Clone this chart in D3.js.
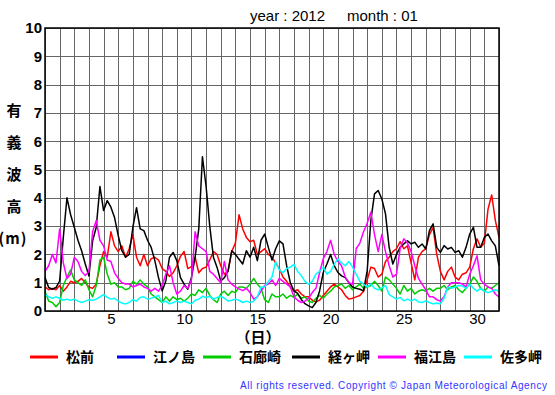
<!DOCTYPE html>
<html>
<head>
<meta charset="utf-8">
<script src="https://cdn.jsdelivr.net/npm/d3@7"></script>
<style>
  body { margin: 0; background: #fff; }
  svg { display: block; }
  .grid line { stroke: #666; stroke-width: 1; shape-rendering: crispEdges; }
  .grid path { display: none; }
  .ylab text { font: bold 15px "Liberation Sans", Arial, sans-serif; fill: #000; }
  .xlab text { font: 15px "Liberation Sans", Arial, sans-serif; fill: #000; }
  .jp { font-family: "Noto Sans CJK JP", sans-serif; font-weight: bold; }
</style>
</head>
<body>
<script>
// 6-hourly readings, day 0..31 (step 0.25 day)
var step = 0.25;
var stations = ['松前', '江ノ島', '石廊崎', '経ヶ岬', '福江島', '佐多岬'];
var colors = ['#ff0000', '#0000ff', '#00cc00', '#000000', '#ff00ff', '#00ffff'];
var yTicks = [0, 1, 2, 3, 4, 5, 6, 7, 8, 9, 10];
var xTickDays = [5, 10, 15, 20, 25, 30];

var matsumae = [0.85,0.75,0.8,0.75,0.9,0.7,0.85,1.05,1.0,1.05,1.15,1.0,0.85,0.8,0.95,1.6,2.1,1.9,2.8,2.3,2.1,2.3,1.9,2.2,2.7,1.9,1.6,2.0,1.6,1.85,1.9,1.8,
  1.5,1.4,1.22,1.35,1.6,1.93,2.1,1.5,1.57,1.9,1.35,1.5,1.55,1.8,2.1,2.0,1.6,1.3,1.4,2.1,2.4,3.4,2.9,2.6,2.45,2.5,2.0,2.1,2.2,2.0,1.9,1.7,
  1.5,1.2,1.05,0.85,0.7,0.75,0.6,0.5,0.5,0.38,0.32,0.38,0.55,0.7,0.85,0.95,0.85,0.75,0.55,0.42,0.45,0.5,0.55,0.7,1.1,1.55,1.5,1.2,1.3,1.75,1.9,2.1,
  2.2,2.45,2.2,2.3,1.7,1.1,1.9,2.1,2.2,2.7,2.95,2.0,1.4,1.1,1.4,1.55,1.2,1.1,1.3,1.35,1.55,2.2,2.55,2.25,2.4,3.6,4.1,3.2,2.6];
var enoshima = [];
var irozaki = [0.7,0.35,0.3,0.15,0.3,0.9,1.2,1.45,1.1,1.0,0.9,1.1,0.75,0.5,0.9,1.8,1.9,1.3,0.95,1.0,0.85,0.85,0.75,0.8,1.05,0.95,1.1,0.95,0.85,0.6,0.5,0.4,
  0.3,0.5,0.35,0.5,0.4,0.45,0.35,0.45,0.6,0.55,0.75,0.65,0.8,0.55,0.4,0.3,0.6,0.7,0.55,0.7,0.65,0.85,0.85,0.8,0.95,1.15,0.95,0.8,0.4,0.3,0.6,0.5,
  0.5,0.6,0.45,0.55,0.48,0.6,0.45,0.5,0.35,0.3,0.45,0.55,0.45,0.6,0.7,0.85,0.9,0.95,0.8,0.9,0.75,0.85,0.95,0.8,0.85,0.9,1.05,0.9,0.7,1.2,1.1,0.95,
  0.8,0.6,0.9,0.7,0.8,0.6,0.7,0.75,0.7,0.8,0.7,0.8,0.8,0.9,0.75,0.85,0.9,0.75,0.65,0.8,0.95,1.2,1.05,0.8,0.7,0.85,0.8,0.9,1.0];
var kyogamisaki = [1.18,0.83,0.77,0.83,1.06,2.6,4.0,3.4,2.96,2.5,2.13,1.66,1.24,2.48,2.96,4.4,3.55,3.9,3.67,3.3,2.66,2.13,1.9,2.0,2.96,3.65,2.9,2.84,2.5,2.25,1.78,1.18,
  0.71,1.06,1.9,2.07,1.78,1.18,0.95,0.77,1.18,1.9,2.9,5.45,4.4,3.0,1.9,1.54,1.06,1.18,1.42,2.13,2.0,1.83,1.66,2.13,1.9,2.25,1.78,2.5,2.72,2.25,1.8,2.2,
  2.48,2.37,1.6,1.0,0.71,0.62,0.41,0.26,0.18,0.12,0.3,0.71,1.36,1.66,2.0,1.6,1.36,1.24,1.18,1.0,0.85,0.8,0.77,0.71,1.42,3.2,4.14,4.26,3.96,3.43,2.25,1.66,
  2.0,2.25,2.37,2.48,2.37,2.43,2.25,2.37,2.19,2.84,3.08,2.25,2.07,2.31,2.19,2.25,2.07,2.13,1.9,2.25,2.72,2.96,2.25,2.25,2.6,2.72,2.48,2.3,1.6];
var fukuejima = [1.4,1.6,2.0,1.7,2.9,1.7,1.15,1.3,1.9,1.75,1.4,1.25,1.4,2.8,3.2,2.5,2.3,1.8,1.75,1.35,1.15,1.0,0.95,0.95,0.85,0.9,0.95,0.85,0.8,0.7,0.8,0.7,
  0.9,1.3,1.6,1.0,0.6,0.7,0.9,0.8,1.1,2.8,2.3,2.2,2.1,1.4,1.3,1.15,1.0,1.75,1.1,0.95,0.85,0.78,0.72,0.8,0.65,0.42,0.5,0.7,0.9,0.95,1.1,0.9,
  1.15,1.05,0.95,0.85,0.5,0.38,0.3,0.35,0.45,0.65,0.8,1.35,1.85,2.1,2.5,2.0,1.75,1.6,1.2,1.0,0.95,2.2,2.4,2.8,3.1,3.5,2.7,2.1,2.7,2.1,1.6,1.2,
  1.3,2.2,2.55,2.4,2.1,1.6,1.15,0.95,0.75,0.5,0.5,0.4,0.35,0.5,0.85,1.0,1.0,1.0,0.95,0.85,1.3,1.6,1.95,1.1,0.95,0.85,0.8,0.6,0.5];
var satamisaki = [0.6,0.5,0.45,0.5,0.45,0.38,0.42,0.38,0.42,0.35,0.3,0.35,0.4,0.38,0.42,0.5,0.58,0.48,0.42,0.45,0.35,0.28,0.25,0.3,0.4,0.35,0.48,0.5,0.42,0.45,0.5,0.55,
  0.3,0.35,0.25,0.3,0.35,0.3,0.35,0.3,0.25,0.38,0.42,0.52,0.48,0.52,0.42,0.48,0.52,0.45,0.35,0.38,0.42,0.38,0.3,0.35,0.3,0.35,0.5,0.85,0.85,1.05,1.2,1.75,
  1.45,1.35,1.5,1.55,1.65,1.4,1.25,1.05,0.95,1.05,1.3,1.4,1.55,1.3,1.4,1.65,1.85,1.7,1.6,1.75,1.55,1.3,1.05,0.95,0.85,0.95,0.8,0.75,0.82,0.9,0.58,0.5,
  0.42,0.48,0.36,0.42,0.36,0.42,0.32,0.3,0.36,0.3,0.25,0.28,0.25,0.45,0.85,0.8,0.85,0.9,0.88,0.8,0.95,0.8,0.7,0.8,0.7,0.65,0.7,0.75,0.7];

var series = [matsumae, enoshima, irozaki, kyogamisaki, fukuejima, satamisaki];

var W = 555, H = 395;
var mLeft = 45, mRight = 499, mTop = 28, mBottom = 311;

var svg = d3.select('body').append('svg').attr('width', W).attr('height', H);

var x = d3.scaleLinear().domain([0, 31]).range([mLeft, mRight]);
var y = d3.scaleLinear().domain([0, 10]).range([mBottom, mTop]);

// grid
svg.append('g').attr('class', 'grid')
  .attr('transform', 'translate(0,' + mBottom + ')')
  .call(d3.axisBottom(x).tickValues(d3.range(0, 32)).tickSize(-(mBottom - mTop)).tickFormat(''));
svg.append('g').attr('class', 'grid')
  .attr('transform', 'translate(' + mLeft + ',0)')
  .call(d3.axisLeft(y).tickValues(yTicks).tickSize(-(mRight - mLeft)).tickFormat(''));

// tick labels
var ya = svg.append('g').attr('class', 'ylab')
  .attr('transform', 'translate(' + mLeft + ',0)')
  .call(d3.axisLeft(y).tickValues(yTicks).tickSize(0).tickPadding(3).tickFormat(d3.format('d')));
ya.select('.domain').remove();

var xa = svg.append('g').attr('class', 'xlab')
  .attr('transform', 'translate(0,' + mBottom + ')')
  .call(d3.axisBottom(x).tickValues(xTickDays.map(function(d){ return d - 0.5; }))
    .tickSize(0).tickPadding(2).tickFormat(function(d){ return d + 0.5; }));
xa.select('.domain').remove();

// lines
var line = d3.line()
  .x(function(d, i){ return x(i * step); })
  .y(function(d){ return y(d); });

svg.append('g')
  .selectAll('path').data(series).enter().append('path')
  .attr('d', function(d){ return d.length ? line(d) : null; })
  .attr('fill', 'none')
  .attr('stroke', function(d, i){ return colors[i]; })
  .attr('stroke-width', 1.5)
  .attr('stroke-linejoin', 'round');

// frame
svg.append('rect')
  .attr('x', mLeft).attr('y', mTop)
  .attr('width', mRight - mLeft).attr('height', mBottom - mTop)
  .attr('fill', 'none').attr('stroke', '#000').attr('stroke-width', 1.5);

// title
svg.append('text').attr('x', 250).attr('y', 21)
  .style('font', '15px "Liberation Sans", Arial, sans-serif')
  .text('year : 2012');
svg.append('text').attr('x', 347).attr('y', 21)
  .style('font', '15px "Liberation Sans", Arial, sans-serif')
  .text('month : 01');

// y axis title (vertical)
var yTitle = ['有', '義', '波', '高'];
svg.selectAll('.yt').data(yTitle).enter().append('text')
  .attr('class', 'jp')
  .attr('x', 14).attr('text-anchor', 'middle')
  .attr('y', function(d, i){ return 116 + i * 32; })
  .style('font-size', '15px')
  .text(function(d){ return d; });
svg.append('text').attr('class', 'jp')
  .attr('x', 13).attr('y', 244).attr('text-anchor', 'middle')
  .style('font-size', '15px').style('letter-spacing', '1px').text('(m)');

svg.append('text').attr('class', 'jp')
  .attr('x', 258).attr('y', 343).attr('text-anchor', 'middle')
  .style('font-size', '15px').text('（日）');

// legend
var legX = [30, 117, 203, 292, 378, 464];
var leg = svg.selectAll('.leg').data(stations).enter().append('g')
  .attr('transform', function(d, i){ return 'translate(' + legX[i] + ',357)'; });
leg.append('line').attr('x1', 0).attr('x2', 28).attr('y1', 0).attr('y2', 0)
  .attr('stroke', function(d, i){ return colors[i]; }).attr('stroke-width', 3);
leg.append('text').attr('class', 'jp').attr('x', 36).attr('y', 5)
  .style('font-size', '14px').text(function(d){ return d; });

// copyright
svg.append('text').attr('x', 240).attr('y', 389)
  .style('font', '10px "Liberation Sans", Arial, sans-serif')
  .attr('textLength', 307).attr('lengthAdjust', 'spacing')
  .attr('fill', '#3333ff')
  .text('All rights reserved. Copyright © Japan Meteorological Agency');
</script>
</body>
</html>
